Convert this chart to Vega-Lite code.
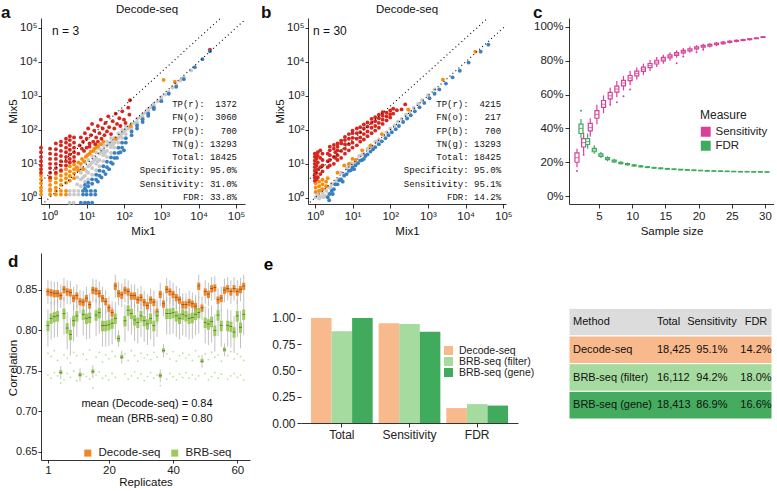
{
"$schema":"https://vega.github.io/schema/vega-lite/v6.json",
"background":"white",
"padding":{"left":1,"top":4,"right":0,"bottom":0},
"config":{
 "font":"Liberation Sans",
 "view":{"stroke":null},
 "axis":{"grid":false,"domainColor":"black","domainWidth":0.8,"tickColor":"black","tickWidth":0.8,"tickSize":4,"labelColor":"#222222","labelFontSize":11.5,"labelFont":"Liberation Sans","titleFont":"Liberation Sans","titleFontSize":11.5,"titleFontWeight":"normal","titleColor":"#111111","labelPadding":2,"titlePadding":4,"labelOverlap":false},
 "legend":{"labelFont":"Liberation Sans","titleFont":"Liberation Sans","labelFontSize":11.5,"titleFontSize":12,"titleFontWeight":"normal","labelColor":"#222222","titleColor":"#222222"},
 "title":{"font":"Liberation Sans","fontSize":11.5,"fontWeight":"normal","color":"#111111"},
 "text":{"font":"Liberation Sans","color":"#111111"}
},
"datasets":{
 "diag":[{"k":"1","x":0.3,"y":0.3},{"k":"1","x":300000,"y":300000},{"k":"5","x":0.3,"y":1.5},{"k":"5","x":60000,"y":300000}],
 "scatA":[
{"x":3.55,"y":1.6,"c":"g"},{"x":4.6,"y":1.6,"c":"g"},{"x":6,"y":1.6,"c":"g"},{"x":3.55,"y":1.25,"c":"g"},{"x":4.6,"y":1.25,"c":"g"},{"x":6,"y":1.25,"c":"g"},{"x":3.5,"y":0.72,"c":"g"},{"x":4.5,"y":0.72,"c":"g"},
{"x":5.6,"y":2.5,"c":"g"},{"x":5.6,"y":4,"c":"g"},{"x":5.6,"y":6.3,"c":"g"},
{"x":7,"y":2.2,"c":"g"},{"x":7,"y":3.5,"c":"g"},{"x":7,"y":5.5,"c":"g"},{"x":7,"y":8,"c":"g"},
{"x":9,"y":3,"c":"g"},{"x":9,"y":4.5,"c":"g"},{"x":9,"y":7,"c":"g"},{"x":9,"y":11,"c":"g"},
{"x":11,"y":3.5,"c":"g"},{"x":11,"y":5.5,"c":"g"},{"x":11,"y":8.5,"c":"g"},{"x":11,"y":13,"c":"g"},
{"x":14,"y":4.8,"c":"g"},{"x":14,"y":7.5,"c":"g"},{"x":14,"y":11,"c":"g"},{"x":14,"y":17,"c":"g"},
{"x":18,"y":6.5,"c":"g"},{"x":18,"y":10,"c":"g"},{"x":18,"y":15,"c":"g"},{"x":18,"y":22,"c":"g"},
{"x":22,"y":8.5,"c":"g"},{"x":22,"y":13,"c":"g"},{"x":22,"y":20,"c":"g"},{"x":22,"y":28,"c":"g"},
{"x":28,"y":12,"c":"g"},{"x":28,"y":18,"c":"g"},{"x":28,"y":26,"c":"g"},{"x":28,"y":36,"c":"g"},
{"x":35,"y":16,"c":"g"},{"x":35,"y":24,"c":"g"},{"x":35,"y":34,"c":"g"},{"x":35,"y":45,"c":"g"},
{"x":45,"y":21,"c":"g"},{"x":45,"y":31,"c":"g"},{"x":45,"y":44,"c":"g"},{"x":45,"y":58,"c":"g"},
{"x":56,"y":30,"c":"g"},{"x":56,"y":42,"c":"g"},{"x":56,"y":58,"c":"g"},
{"x":71,"y":42,"c":"g"},{"x":71,"y":58,"c":"g"},{"x":71,"y":78,"c":"g"},
{"x":89,"y":58,"c":"g"},{"x":89,"y":78,"c":"g"},{"x":89,"y":100,"c":"g"},
{"x":112,"y":75,"c":"g"},{"x":112,"y":100,"c":"g"},{"x":112,"y":130,"c":"g"},
{"x":160,"y":115,"c":"g"},{"x":160,"y":150,"c":"g"},{"x":224,"y":165,"c":"g"},{"x":224,"y":210,"c":"g"},
{"x":316,"y":240,"c":"g"},{"x":316,"y":290,"c":"g"},{"x":447,"y":350,"c":"g"},{"x":447,"y":410,"c":"g"},
{"x":630,"y":500,"c":"g"},{"x":630,"y":580,"c":"g"},{"x":1000,"y":820,"c":"g"},{"x":1000,"y":920,"c":"g"},
{"x":1580,"y":1300,"c":"g"},{"x":2500,"y":2150,"c":"g"},{"x":4000,"y":3500,"c":"g"},{"x":6300,"y":5600,"c":"g"},
{"x":8,"y":4,"c":"g"},{"x":10,"y":6,"c":"g"},{"x":12.5,"y":9.5,"c":"g"},{"x":16,"y":13,"c":"g"},{"x":20,"y":12,"c":"g"},{"x":25,"y":22,"c":"g"},{"x":31,"y":21,"c":"g"},{"x":40,"y":38,"c":"g"},{"x":50,"y":37,"c":"g"},{"x":63,"y":50,"c":"g"},{"x":80,"y":68,"c":"g"},{"x":100,"y":88,"c":"g"},{"x":135,"y":110,"c":"g"},{"x":190,"y":160,"c":"g"},{"x":270,"y":230,"c":"g"},{"x":380,"y":320,"c":"g"},{"x":530,"y":460,"c":"g"},{"x":800,"y":700,"c":"g"},{"x":1250,"y":1100,"c":"g"},{"x":2000,"y":1750,"c":"g"},{"x":3200,"y":2800,"c":"g"},
{"x":0.6,"y":2,"c":"o"},{"x":0.6,"y":2.7,"c":"o"},{"x":0.6,"y":3.5,"c":"o"},{"x":0.6,"y":4.5,"c":"o"},
{"x":1.05,"y":1.8,"c":"o"},{"x":1.05,"y":2.4,"c":"o"},{"x":1.05,"y":3.2,"c":"o"},{"x":1.05,"y":3.8,"c":"o"},
{"x":1.5,"y":2,"c":"o"},{"x":1.5,"y":2.8,"c":"o"},{"x":1.5,"y":3.8,"c":"o"},{"x":1.5,"y":5,"c":"o"},
{"x":2.05,"y":2.4,"c":"o"},{"x":2.05,"y":3.3,"c":"o"},{"x":2.05,"y":4.5,"c":"o"},{"x":2.05,"y":6,"c":"o"},
{"x":2.8,"y":2.8,"c":"o"},{"x":2.8,"y":3.8,"c":"o"},{"x":2.8,"y":5,"c":"o"},{"x":2.8,"y":7,"c":"o"},
{"x":3.55,"y":3.2,"c":"o"},{"x":3.55,"y":4.4,"c":"o"},{"x":3.55,"y":6,"c":"o"},{"x":3.55,"y":8.5,"c":"o"},
{"x":4.6,"y":3.8,"c":"o"},{"x":4.6,"y":5.2,"c":"o"},{"x":4.6,"y":7,"c":"o"},{"x":4.6,"y":9.5,"c":"o"},
{"x":0.6,"y":1.6,"c":"o"},{"x":1.05,"y":1.6,"c":"o"},{"x":1.5,"y":1.6,"c":"o"},{"x":2.05,"y":1.6,"c":"o"},{"x":2.8,"y":1.6,"c":"o"},{"x":0.6,"y":1.25,"c":"o"},{"x":1.05,"y":1.25,"c":"o"},{"x":1.5,"y":1.25,"c":"o"},{"x":2.05,"y":1.25,"c":"o"},{"x":2.8,"y":1.25,"c":"o"},
{"x":5.5,"y":8,"c":"o"},{"x":6,"y":11,"c":"o"},{"x":7,"y":10,"c":"o"},{"x":7.5,"y":14,"c":"o"},{"x":8.5,"y":12,"c":"o"},{"x":9.5,"y":16,"c":"o"},{"x":10.5,"y":18,"c":"o"},{"x":12,"y":20,"c":"o"},{"x":13,"y":23,"c":"o"},{"x":15,"y":24,"c":"o"},{"x":16,"y":28,"c":"o"},{"x":18,"y":30,"c":"o"},{"x":20,"y":33,"c":"o"},{"x":24,"y":38,"c":"o"},{"x":28,"y":45,"c":"o"},{"x":60,"y":55,"c":"o"},{"x":150,"y":130,"c":"o"},{"x":1150,"y":2950,"c":"o"},{"x":2300,"y":2600,"c":"o"},{"x":6,"y":6.5,"c":"o"},{"x":8,"y":7,"c":"o"},
{"x":0.6,"y":5.5,"c":"r"},{"x":0.6,"y":7,"c":"r"},{"x":0.6,"y":9,"c":"r"},{"x":0.6,"y":12,"c":"r"},{"x":0.6,"y":16,"c":"r"},{"x":0.6,"y":22,"c":"r"},{"x":0.6,"y":30,"c":"r"},
{"x":1.05,"y":4,"c":"r"},{"x":1.05,"y":5.5,"c":"r"},{"x":1.05,"y":7.5,"c":"r"},{"x":1.05,"y":10,"c":"r"},{"x":1.05,"y":14,"c":"r"},{"x":1.05,"y":20,"c":"r"},{"x":1.05,"y":28,"c":"r"},
{"x":1.5,"y":5.5,"c":"r"},{"x":1.5,"y":7.5,"c":"r"},{"x":1.5,"y":10,"c":"r"},{"x":1.5,"y":14,"c":"r"},{"x":1.5,"y":19,"c":"r"},{"x":1.5,"y":27,"c":"r"},{"x":1.5,"y":40,"c":"r"},
{"x":2.05,"y":6.5,"c":"r"},{"x":2.05,"y":9,"c":"r"},{"x":2.05,"y":12,"c":"r"},{"x":2.05,"y":17,"c":"r"},{"x":2.05,"y":24,"c":"r"},{"x":2.05,"y":35,"c":"r"},{"x":2.05,"y":45,"c":"r"},
{"x":2.8,"y":9,"c":"r"},{"x":2.8,"y":12,"c":"r"},{"x":2.8,"y":16,"c":"r"},{"x":2.8,"y":22,"c":"r"},{"x":2.8,"y":30,"c":"r"},{"x":2.8,"y":42,"c":"r"},{"x":2.8,"y":55,"c":"r"},
{"x":3.55,"y":11,"c":"r"},{"x":3.55,"y":14,"c":"r"},{"x":3.55,"y":19,"c":"r"},{"x":3.55,"y":26,"c":"r"},{"x":3.55,"y":36,"c":"r"},{"x":3.55,"y":50,"c":"r"},{"x":3.55,"y":65,"c":"r"},
{"x":4.6,"y":12,"c":"r"},{"x":4.6,"y":16,"c":"r"},{"x":4.6,"y":22,"c":"r"},{"x":4.6,"y":30,"c":"r"},{"x":4.6,"y":42,"c":"r"},{"x":4.6,"y":60,"c":"r"},
{"x":6,"y":20,"c":"r"},{"x":6.5,"y":35,"c":"r"},{"x":7,"y":60,"c":"r"},{"x":7.5,"y":28,"c":"r"},{"x":8,"y":45,"c":"r"},{"x":8.5,"y":24,"c":"r"},{"x":9,"y":80,"c":"r"},{"x":10,"y":30,"c":"r"},{"x":10,"y":55,"c":"r"},{"x":11,"y":110,"c":"r"},{"x":12,"y":40,"c":"r"},{"x":12,"y":32,"c":"r"},{"x":13,"y":70,"c":"r"},{"x":14,"y":150,"c":"r"},{"x":15,"y":45,"c":"r"},{"x":16,"y":95,"c":"r"},{"x":17,"y":38,"c":"r"},{"x":18,"y":60,"c":"r"},{"x":20,"y":130,"c":"r"},{"x":20,"y":45,"c":"r"},{"x":22,"y":80,"c":"r"},{"x":24,"y":200,"c":"r"},{"x":25,"y":55,"c":"r"},{"x":27,"y":110,"c":"r"},{"x":30,"y":70,"c":"r"},{"x":32,"y":160,"c":"r"},{"x":35,"y":90,"c":"r"},{"x":38,"y":250,"c":"r"},{"x":40,"y":120,"c":"r"},{"x":45,"y":75,"c":"r"},{"x":50,"y":180,"c":"r"},{"x":55,"y":110,"c":"r"},{"x":60,"y":300,"c":"r"},{"x":65,"y":150,"c":"r"},{"x":75,"y":220,"c":"r"},{"x":80,"y":130,"c":"r"},{"x":90,"y":350,"c":"r"},{"x":100,"y":200,"c":"r"},{"x":110,"y":160,"c":"r"},{"x":130,"y":450,"c":"r"},{"x":140,"y":280,"c":"r"},{"x":145,"y":740,"c":"r"},{"x":20000,"y":23000,"c":"r"},
{"x":8,"y":1.6,"c":"b"},{"x":10,"y":1.6,"c":"b"},{"x":13,"y":1.6,"c":"b"},{"x":17,"y":1.6,"c":"b"},{"x":8,"y":1.25,"c":"b"},{"x":10,"y":1.25,"c":"b"},{"x":13,"y":1.25,"c":"b"},{"x":17,"y":1.25,"c":"b"},{"x":7,"y":0.72,"c":"b"},{"x":9,"y":0.72,"c":"b"},{"x":11,"y":0.72,"c":"b"},{"x":14,"y":0.72,"c":"b"},
{"x":9,"y":1.9,"c":"b"},{"x":9,"y":2.4,"c":"b"},{"x":11,"y":2.2,"c":"b"},{"x":11,"y":2.8,"c":"b"},{"x":14,"y":2.6,"c":"b"},{"x":14,"y":3.5,"c":"b"},{"x":18,"y":3.4,"c":"b"},{"x":18,"y":4.8,"c":"b"},{"x":22,"y":4.5,"c":"b"},{"x":22,"y":6.3,"c":"b"},{"x":28,"y":6,"c":"b"},{"x":28,"y":8.5,"c":"b"},{"x":35,"y":8,"c":"b"},{"x":35,"y":11.5,"c":"b"},{"x":45,"y":11,"c":"b"},{"x":45,"y":15.5,"c":"b"},{"x":56,"y":15,"c":"b"},{"x":56,"y":21,"c":"b"},{"x":71,"y":21,"c":"b"},{"x":71,"y":30,"c":"b"},{"x":89,"y":30,"c":"b"},{"x":89,"y":42,"c":"b"},{"x":112,"y":42,"c":"b"},{"x":112,"y":57,"c":"b"},{"x":160,"y":70,"c":"b"},{"x":160,"y":90,"c":"b"},{"x":224,"y":110,"c":"b"},{"x":224,"y":135,"c":"b"},{"x":316,"y":170,"c":"b"},{"x":316,"y":205,"c":"b"},{"x":447,"y":260,"c":"b"},{"x":447,"y":300,"c":"b"},{"x":630,"y":410,"c":"b"},{"x":630,"y":450,"c":"b"},{"x":1000,"y":700,"c":"b"},{"x":1580,"y":1150,"c":"b"},{"x":2500,"y":1850,"c":"b"},{"x":4000,"y":3100,"c":"b"},{"x":7900,"y":7000,"c":"b"},{"x":12600,"y":12000,"c":"b"},{"x":20000,"y":20500,"c":"b"},
{"x":32,"y":5,"c":"b"},{"x":40,"y":7,"c":"b"},{"x":25,"y":4,"c":"b"},{"x":50,"y":10,"c":"b"},{"x":65,"y":15,"c":"b"},{"x":20,"y":3,"c":"b"},{"x":80,"y":22,"c":"b"},{"x":100,"y":25,"c":"b"}
 ],
 "scatB":[
{"x":1.05,"y":1.05,"c":"g"},{"x":1.2,"y":1.2,"c":"g"},{"x":1.4,"y":1.1,"c":"g"},{"x":1.6,"y":1.4,"c":"g"},{"x":1.8,"y":1.15,"c":"g"},{"x":2,"y":1.6,"c":"g"},{"x":2.3,"y":1.3,"c":"g"},{"x":2.6,"y":2,"c":"g"},{"x":3,"y":1.7,"c":"g"},{"x":3.3,"y":2.6,"c":"g"},{"x":3.8,"y":3.2,"c":"g"},{"x":4.5,"y":3.6,"c":"g"},{"x":1.1,"y":1.4,"c":"g"},{"x":1.5,"y":1.8,"c":"g"},{"x":2.2,"y":2.1,"c":"g"},{"x":2.8,"y":2.5,"c":"g"},{"x":1.3,"y":0.95,"c":"g"},{"x":1.7,"y":1.05,"c":"g"},{"x":1.25,"y":1.6,"c":"g"},
{"x":5,"y":5.5,"c":"g"},{"x":6,"y":5,"c":"g"},{"x":7,"y":7.5,"c":"g"},{"x":8,"y":9,"c":"g"},{"x":9,"y":10.5,"c":"g"},{"x":10,"y":10,"c":"g"},{"x":12,"y":11,"c":"g"},{"x":15,"y":17,"c":"g"},{"x":18,"y":19,"c":"g"},{"x":20,"y":20,"c":"g"},{"x":25,"y":28,"c":"g"},{"x":28,"y":30,"c":"g"},{"x":32,"y":33,"c":"g"},{"x":40,"y":45,"c":"g"},{"x":45,"y":46,"c":"g"},{"x":50,"y":52,"c":"g"},{"x":65,"y":70,"c":"g"},{"x":80,"y":85,"c":"g"},{"x":100,"y":110,"c":"g"},{"x":130,"y":135,"c":"g"},{"x":160,"y":175,"c":"g"},{"x":200,"y":210,"c":"g"},{"x":260,"y":280,"c":"g"},{"x":330,"y":350,"c":"g"},{"x":420,"y":440,"c":"g"},{"x":550,"y":580,"c":"g"},{"x":700,"y":740,"c":"g"},{"x":1000,"y":1050,"c":"g"},{"x":1500,"y":1550,"c":"g"},
{"x":1.05,"y":1.5,"c":"o"},{"x":1.05,"y":2,"c":"o"},{"x":1.05,"y":2.7,"c":"o"},{"x":1.05,"y":3.5,"c":"o"},{"x":1.3,"y":1.6,"c":"o"},{"x":1.3,"y":2.2,"c":"o"},{"x":1.3,"y":3,"c":"o"},{"x":1.6,"y":1.8,"c":"o"},{"x":1.6,"y":2.5,"c":"o"},{"x":1.6,"y":3.4,"c":"o"},{"x":2,"y":2.2,"c":"o"},{"x":2,"y":3,"c":"o"},{"x":2.2,"y":3.8,"c":"o"},{"x":1.15,"y":4.2,"c":"o"},{"x":4,"y":5.5,"c":"o"},{"x":6,"y":9,"c":"o"},{"x":10,"y":14,"c":"o"},{"x":18,"y":25,"c":"o"},{"x":30,"y":35,"c":"o"},{"x":300,"y":400,"c":"o"},{"x":2500,"y":3000,"c":"o"},{"x":18000,"y":20000,"c":"o"},{"x":12,"y":13,"c":"o"},{"x":60,"y":75,"c":"o"},{"x":8,"y":10,"c":"o"},
{"x":1,"y":3.2,"c":"r"},{"x":1,"y":4,"c":"r"},{"x":1,"y":5,"c":"r"},{"x":1,"y":6.3,"c":"r"},{"x":1,"y":8,"c":"r"},{"x":1,"y":10,"c":"r"},{"x":1,"y":12.5,"c":"r"},{"x":1,"y":16,"c":"r"},{"x":1,"y":20,"c":"r"},
{"x":1.1,"y":3.5,"c":"r"},{"x":1.1,"y":5.5,"c":"r"},{"x":1.1,"y":9,"c":"r"},{"x":1.1,"y":14,"c":"r"},{"x":1.1,"y":18,"c":"r"},
{"x":1.2,"y":4,"c":"r"},{"x":1.2,"y":7,"c":"r"},{"x":1.2,"y":11,"c":"r"},{"x":1.2,"y":17,"c":"r"},{"x":1.2,"y":22,"c":"r"},
{"x":1.4,"y":5,"c":"r"},{"x":1.4,"y":8,"c":"r"},{"x":1.4,"y":15,"c":"r"},{"x":1.4,"y":25,"c":"r"},
{"x":1.6,"y":6,"c":"r"},{"x":1.6,"y":9,"c":"r"},{"x":1.6,"y":13,"c":"r"},{"x":1.6,"y":20,"c":"r"},
{"x":2.2,"y":8,"c":"r"},{"x":2.2,"y":12,"c":"r"},{"x":2.2,"y":20,"c":"r"},
{"x":2.5,"y":9,"c":"r"},{"x":2.5,"y":13,"c":"r"},{"x":2.5,"y":18,"c":"r"},{"x":2.5,"y":25,"c":"r"},{"x":2.5,"y":32,"c":"r"},
{"x":3.2,"y":10,"c":"r"},{"x":3.2,"y":16,"c":"r"},{"x":3.2,"y":28,"c":"r"},{"x":3.2,"y":36,"c":"r"},
{"x":3.5,"y":15,"c":"r"},{"x":3.5,"y":22,"c":"r"},
{"x":4,"y":13,"c":"r"},{"x":4,"y":18,"c":"r"},{"x":4,"y":25,"c":"r"},{"x":4,"y":32,"c":"r"},{"x":4,"y":40,"c":"r"},
{"x":5,"y":15,"c":"r"},{"x":5,"y":24,"c":"r"},{"x":5,"y":40,"c":"r"},{"x":5,"y":48,"c":"r"},
{"x":6.3,"y":20,"c":"r"},{"x":6.3,"y":28,"c":"r"},{"x":6.3,"y":38,"c":"r"},{"x":6.3,"y":50,"c":"r"},{"x":6.3,"y":62,"c":"r"},
{"x":8,"y":25,"c":"r"},{"x":8,"y":38,"c":"r"},{"x":8,"y":55,"c":"r"},{"x":8,"y":75,"c":"r"},
{"x":10,"y":30,"c":"r"},{"x":10,"y":42,"c":"r"},{"x":10,"y":58,"c":"r"},{"x":10,"y":80,"c":"r"},{"x":10,"y":95,"c":"r"},
{"x":13,"y":35,"c":"r"},{"x":13,"y":55,"c":"r"},{"x":13,"y":80,"c":"r"},{"x":13,"y":110,"c":"r"},
{"x":16,"y":45,"c":"r"},{"x":16,"y":60,"c":"r"},{"x":16,"y":85,"c":"r"},{"x":16,"y":120,"c":"r"},
{"x":20,"y":52,"c":"r"},{"x":20,"y":75,"c":"r"},{"x":20,"y":110,"c":"r"},{"x":20,"y":145,"c":"r"},
{"x":25,"y":65,"c":"r"},{"x":25,"y":90,"c":"r"},{"x":25,"y":125,"c":"r"},{"x":25,"y":165,"c":"r"},
{"x":32,"y":80,"c":"r"},{"x":32,"y":115,"c":"r"},{"x":32,"y":160,"c":"r"},{"x":32,"y":210,"c":"r"},
{"x":40,"y":95,"c":"r"},{"x":40,"y":130,"c":"r"},{"x":40,"y":180,"c":"r"},{"x":40,"y":235,"c":"r"},
{"x":50,"y":115,"c":"r"},{"x":50,"y":160,"c":"r"},{"x":50,"y":220,"c":"r"},{"x":50,"y":280,"c":"r"},
{"x":63,"y":150,"c":"r"},{"x":63,"y":200,"c":"r"},{"x":63,"y":260,"c":"r"},{"x":63,"y":330,"c":"r"},
{"x":80,"y":190,"c":"r"},{"x":80,"y":250,"c":"r"},{"x":80,"y":320,"c":"r"},
{"x":100,"y":230,"c":"r"},{"x":100,"y":290,"c":"r"},{"x":100,"y":370,"c":"r"},
{"x":120,"y":300,"c":"r"},{"x":120,"y":420,"c":"r"},{"x":150,"y":380,"c":"r"},{"x":200,"y":400,"c":"r"},{"x":250,"y":560,"c":"r"},
{"x":2.2,"y":1.05,"c":"b"},{"x":2.5,"y":1.3,"c":"b"},{"x":2.8,"y":1.6,"c":"b"},{"x":3.2,"y":1.8,"c":"b"},{"x":3.5,"y":2.5,"c":"b"},{"x":4,"y":2.5,"c":"b"},{"x":4.5,"y":3.3,"c":"b"},{"x":5,"y":3.5,"c":"b"},{"x":6,"y":4.5,"c":"b"},{"x":7,"y":5,"c":"b"},{"x":8,"y":6.2,"c":"b"},{"x":9,"y":6.5,"c":"b"},{"x":10,"y":7.8,"c":"b"},{"x":12,"y":9,"c":"b"},{"x":14,"y":10.5,"c":"b"},{"x":16,"y":12.5,"c":"b"},{"x":18,"y":13,"c":"b"},{"x":22,"y":17,"c":"b"},{"x":25,"y":19,"c":"b"},{"x":30,"y":23,"c":"b"},{"x":35,"y":27,"c":"b"},{"x":40,"y":31,"c":"b"},{"x":50,"y":38,"c":"b"},{"x":60,"y":46,"c":"b"},{"x":75,"y":57,"c":"b"},{"x":90,"y":70,"c":"b"},{"x":110,"y":85,"c":"b"},{"x":140,"y":105,"c":"b"},{"x":170,"y":130,"c":"b"},{"x":220,"y":170,"c":"b"},{"x":280,"y":215,"c":"b"},{"x":350,"y":270,"c":"b"},{"x":450,"y":350,"c":"b"},{"x":600,"y":460,"c":"b"},{"x":800,"y":620,"c":"b"},{"x":1100,"y":850,"c":"b"},{"x":1500,"y":1150,"c":"b"},{"x":2000,"y":1550,"c":"b"},{"x":3000,"y":2300,"c":"b"},{"x":4500,"y":3500,"c":"b"},{"x":7000,"y":5500,"c":"b"},{"x":12000,"y":9500,"c":"b"},{"x":25000,"y":20000,"c":"b"},{"x":40000,"y":32000,"c":"b"},{"x":2.4,"y":0.85,"c":"b"},{"x":3,"y":1.3,"c":"b"},{"x":5.5,"y":3,"c":"b"},{"x":11,"y":7,"c":"b"},{"x":20,"y":14,"c":"b"}
 ],
 "cbox":[
{"n":2,"m":"Sensitivity","lo":0.17,"q1":0.2,"md":0.227,"q3":0.255,"hi":0.28},
{"n":3,"m":"Sensitivity","lo":0.25,"q1":0.29,"md":0.316,"q3":0.34,"hi":0.375},
{"n":4,"m":"Sensitivity","lo":0.35,"q1":0.385,"md":0.405,"q3":0.43,"hi":0.46},
{"n":5,"m":"Sensitivity","lo":0.425,"q1":0.46,"md":0.483,"q3":0.505,"hi":0.54},
{"n":6,"m":"Sensitivity","lo":0.49,"q1":0.525,"md":0.543,"q3":0.565,"hi":0.595},
{"n":7,"m":"Sensitivity","lo":0.545,"q1":0.575,"md":0.593,"q3":0.613,"hi":0.64},
{"n":8,"m":"Sensitivity","lo":0.585,"q1":0.615,"md":0.633,"q3":0.65,"hi":0.68},
{"n":9,"m":"Sensitivity","lo":0.625,"q1":0.652,"md":0.668,"q3":0.684,"hi":0.71},
{"n":10,"m":"Sensitivity","lo":0.655,"q1":0.683,"md":0.698,"q3":0.713,"hi":0.74},
{"n":11,"m":"Sensitivity","lo":0.69,"q1":0.711,"md":0.725,"q3":0.739,"hi":0.76},
{"n":12,"m":"Sensitivity","lo":0.715,"q1":0.737,"md":0.75,"q3":0.763,"hi":0.783},
{"n":13,"m":"Sensitivity","lo":0.74,"q1":0.76,"md":0.772,"q3":0.784,"hi":0.805},
{"n":14,"m":"Sensitivity","lo":0.763,"q1":0.781,"md":0.792,"q3":0.803,"hi":0.822},
{"n":15,"m":"Sensitivity","lo":0.783,"q1":0.8,"md":0.81,"q3":0.82,"hi":0.836},
{"n":16,"m":"Sensitivity","lo":0.8,"q1":0.817,"md":0.826,"q3":0.835,"hi":0.85},
{"n":17,"m":"Sensitivity","lo":0.818,"q1":0.832,"md":0.84,"q3":0.848,"hi":0.862},
{"n":18,"m":"Sensitivity","lo":0.835,"q1":0.847,"md":0.854,"q3":0.861,"hi":0.875},
{"n":19,"m":"Sensitivity","lo":0.847,"q1":0.858,"md":0.865,"q3":0.871,"hi":0.884},
{"n":20,"m":"Sensitivity","lo":0.86,"q1":0.87,"md":0.876,"q3":0.882,"hi":0.892},
{"n":21,"m":"Sensitivity","lo":0.87,"q1":0.88,"md":0.885,"q3":0.891,"hi":0.9},
{"n":22,"m":"Sensitivity","lo":0.878,"q1":0.887,"md":0.892,"q3":0.897,"hi":0.905},
{"n":23,"m":"Sensitivity","lo":0.887,"q1":0.895,"md":0.899,"q3":0.904,"hi":0.911},
{"n":24,"m":"Sensitivity","lo":0.895,"q1":0.902,"md":0.906,"q3":0.91,"hi":0.917},
{"n":25,"m":"Sensitivity","lo":0.902,"q1":0.909,"md":0.912,"q3":0.916,"hi":0.921},
{"n":26,"m":"Sensitivity","lo":0.909,"q1":0.915,"md":0.918,"q3":0.921,"hi":0.926},
{"n":27,"m":"Sensitivity","lo":0.915,"q1":0.92,"md":0.923,"q3":0.925,"hi":0.93},
{"n":28,"m":"Sensitivity","lo":0.92,"q1":0.925,"md":0.928,"q3":0.93,"hi":0.934},
{"n":29,"m":"Sensitivity","lo":0.927,"q1":0.931,"md":0.933,"q3":0.935,"hi":0.938},
{"n":30,"m":"Sensitivity","lo":0.935,"q1":0.938,"md":0.94,"q3":0.942,"hi":0.945},
{"n":2,"m":"FDR","lo":0.34,"q1":0.37,"md":0.4,"q3":0.425,"hi":0.455},
{"n":3,"m":"FDR","lo":0.28,"q1":0.305,"md":0.322,"q3":0.34,"hi":0.37},
{"n":4,"m":"FDR","lo":0.25,"q1":0.262,"md":0.272,"q3":0.282,"hi":0.3},
{"n":5,"m":"FDR","lo":0.225,"q1":0.235,"md":0.242,"q3":0.249,"hi":0.26},
{"n":6,"m":"FDR","lo":0.206,"q1":0.215,"md":0.221,"q3":0.227,"hi":0.236},
{"n":7,"m":"FDR","lo":0.195,"q1":0.202,"md":0.207,"q3":0.212,"hi":0.22},
{"n":8,"m":"FDR","lo":0.186,"q1":0.192,"md":0.196,"q3":0.2,"hi":0.207},
{"n":9,"m":"FDR","lo":0.18,"q1":0.185,"md":0.188,"q3":0.192,"hi":0.198},
{"n":10,"m":"FDR","lo":0.173,"q1":0.178,"md":0.181,"q3":0.184,"hi":0.19},
{"n":11,"m":"FDR","lo":0.169,"q1":0.173,"md":0.176,"q3":0.178,"hi":0.183},
{"n":12,"m":"FDR","lo":0.165,"q1":0.169,"md":0.171,"q3":0.173,"hi":0.177},
{"n":13,"m":"FDR","lo":0.162,"q1":0.165,"md":0.167,"q3":0.169,"hi":0.173},
{"n":14,"m":"FDR","lo":0.159,"q1":0.162,"md":0.164,"q3":0.166,"hi":0.169},
{"n":15,"m":"FDR","lo":0.156,"q1":0.159,"md":0.161,"q3":0.163,"hi":0.166},
{"n":16,"m":"FDR","lo":0.154,"q1":0.157,"md":0.158,"q3":0.16,"hi":0.163},
{"n":17,"m":"FDR","lo":0.152,"q1":0.155,"md":0.156,"q3":0.158,"hi":0.16},
{"n":18,"m":"FDR","lo":0.151,"q1":0.153,"md":0.154,"q3":0.156,"hi":0.158},
{"n":19,"m":"FDR","lo":0.149,"q1":0.151,"md":0.152,"q3":0.154,"hi":0.156},
{"n":20,"m":"FDR","lo":0.148,"q1":0.15,"md":0.151,"q3":0.152,"hi":0.154},
{"n":21,"m":"FDR","lo":0.147,"q1":0.148,"md":0.149,"q3":0.151,"hi":0.153},
{"n":22,"m":"FDR","lo":0.146,"q1":0.147,"md":0.148,"q3":0.149,"hi":0.151},
{"n":23,"m":"FDR","lo":0.145,"q1":0.146,"md":0.147,"q3":0.148,"hi":0.15},
{"n":24,"m":"FDR","lo":0.144,"q1":0.145,"md":0.146,"q3":0.147,"hi":0.149},
{"n":25,"m":"FDR","lo":0.143,"q1":0.144,"md":0.145,"q3":0.146,"hi":0.148},
{"n":26,"m":"FDR","lo":0.142,"q1":0.143,"md":0.144,"q3":0.145,"hi":0.147},
{"n":27,"m":"FDR","lo":0.142,"q1":0.143,"md":0.144,"q3":0.145,"hi":0.146},
{"n":28,"m":"FDR","lo":0.141,"q1":0.142,"md":0.143,"q3":0.144,"hi":0.145},
{"n":29,"m":"FDR","lo":0.141,"q1":0.142,"md":0.143,"q3":0.144,"hi":0.145},
{"n":30,"m":"FDR","lo":0.14,"q1":0.141,"md":0.142,"q3":0.143,"hi":0.144}
 ],
 "cout":[
{"n":2,"m":"Sensitivity","v":0.148},{"n":2,"m":"FDR","v":0.505},{"n":3,"m":"Sensitivity","v":0.245},{"n":7,"m":"Sensitivity","v":0.54},{"n":8,"m":"Sensitivity","v":0.555},{"n":9,"m":"Sensitivity","v":0.59},{"n":10,"m":"Sensitivity","v":0.63},{"n":17,"m":"Sensitivity","v":0.785},{"n":18,"m":"Sensitivity","v":0.825},{"n":20,"m":"Sensitivity","v":0.85},{"n":21,"m":"Sensitivity","v":0.865}
 ],
 "dbox":[
{"r":1,"s":"Decode-seq","lo":0.833,"q1":0.843,"md":0.848,"q3":0.852,"hi":0.862},
{"r":2,"s":"Decode-seq","lo":0.832,"q1":0.842,"md":0.847,"q3":0.851,"hi":0.861},
{"r":3,"s":"Decode-seq","lo":0.831,"q1":0.841,"md":0.846,"q3":0.85,"hi":0.86},
{"r":4,"s":"Decode-seq","lo":0.831,"q1":0.841,"md":0.846,"q3":0.85,"hi":0.86},
{"r":5,"s":"Decode-seq","lo":0.828,"q1":0.838,"md":0.843,"q3":0.847,"hi":0.857},
{"r":6,"s":"Decode-seq","lo":0.836,"q1":0.846,"md":0.851,"q3":0.855,"hi":0.865},
{"r":7,"s":"Decode-seq","lo":0.833,"q1":0.843,"md":0.848,"q3":0.852,"hi":0.862},
{"r":8,"s":"Decode-seq","lo":0.832,"q1":0.842,"md":0.847,"q3":0.851,"hi":0.861},
{"r":9,"s":"Decode-seq","lo":0.825,"q1":0.835,"md":0.84,"q3":0.844,"hi":0.854},
{"r":10,"s":"Decode-seq","lo":0.828,"q1":0.838,"md":0.843,"q3":0.847,"hi":0.857},
{"r":11,"s":"Decode-seq","lo":0.821,"q1":0.831,"md":0.836,"q3":0.84,"hi":0.85},
{"r":12,"s":"Decode-seq","lo":0.82,"q1":0.83,"md":0.835,"q3":0.839,"hi":0.849},
{"r":13,"s":"Decode-seq","lo":0.825,"q1":0.835,"md":0.84,"q3":0.844,"hi":0.854},
{"r":14,"s":"Decode-seq","lo":0.817,"q1":0.827,"md":0.832,"q3":0.836,"hi":0.846},
{"r":15,"s":"Decode-seq","lo":0.835,"q1":0.845,"md":0.85,"q3":0.854,"hi":0.864},
{"r":16,"s":"Decode-seq","lo":0.834,"q1":0.844,"md":0.849,"q3":0.853,"hi":0.863},
{"r":17,"s":"Decode-seq","lo":0.831,"q1":0.841,"md":0.846,"q3":0.85,"hi":0.86},
{"r":18,"s":"Decode-seq","lo":0.825,"q1":0.835,"md":0.84,"q3":0.844,"hi":0.854},
{"r":19,"s":"Decode-seq","lo":0.821,"q1":0.831,"md":0.836,"q3":0.84,"hi":0.85},
{"r":20,"s":"Decode-seq","lo":0.813,"q1":0.823,"md":0.828,"q3":0.832,"hi":0.842},
{"r":21,"s":"Decode-seq","lo":0.807,"q1":0.817,"md":0.822,"q3":0.826,"hi":0.836},
{"r":22,"s":"Decode-seq","lo":0.84,"q1":0.85,"md":0.855,"q3":0.859,"hi":0.869},
{"r":23,"s":"Decode-seq","lo":0.831,"q1":0.841,"md":0.846,"q3":0.85,"hi":0.86},
{"r":24,"s":"Decode-seq","lo":0.829,"q1":0.839,"md":0.844,"q3":0.848,"hi":0.858},
{"r":25,"s":"Decode-seq","lo":0.835,"q1":0.845,"md":0.85,"q3":0.854,"hi":0.864},
{"r":26,"s":"Decode-seq","lo":0.833,"q1":0.843,"md":0.848,"q3":0.852,"hi":0.862},
{"r":27,"s":"Decode-seq","lo":0.828,"q1":0.838,"md":0.843,"q3":0.847,"hi":0.857},
{"r":28,"s":"Decode-seq","lo":0.828,"q1":0.838,"md":0.843,"q3":0.847,"hi":0.857},
{"r":29,"s":"Decode-seq","lo":0.823,"q1":0.833,"md":0.838,"q3":0.842,"hi":0.852},
{"r":30,"s":"Decode-seq","lo":0.826,"q1":0.836,"md":0.841,"q3":0.845,"hi":0.855},
{"r":31,"s":"Decode-seq","lo":0.82,"q1":0.83,"md":0.835,"q3":0.839,"hi":0.849},
{"r":32,"s":"Decode-seq","lo":0.816,"q1":0.826,"md":0.831,"q3":0.835,"hi":0.845},
{"r":33,"s":"Decode-seq","lo":0.823,"q1":0.833,"md":0.838,"q3":0.842,"hi":0.852},
{"r":34,"s":"Decode-seq","lo":0.82,"q1":0.83,"md":0.835,"q3":0.839,"hi":0.849},
{"r":35,"s":"Decode-seq","lo":0.808,"q1":0.818,"md":0.823,"q3":0.827,"hi":0.837},
{"r":36,"s":"Decode-seq","lo":0.83,"q1":0.84,"md":0.845,"q3":0.849,"hi":0.859},
{"r":37,"s":"Decode-seq","lo":0.818,"q1":0.828,"md":0.833,"q3":0.837,"hi":0.847},
{"r":38,"s":"Decode-seq","lo":0.836,"q1":0.846,"md":0.851,"q3":0.855,"hi":0.865},
{"r":39,"s":"Decode-seq","lo":0.833,"q1":0.843,"md":0.848,"q3":0.852,"hi":0.862},
{"r":40,"s":"Decode-seq","lo":0.83,"q1":0.84,"md":0.845,"q3":0.849,"hi":0.859},
{"r":41,"s":"Decode-seq","lo":0.826,"q1":0.836,"md":0.841,"q3":0.845,"hi":0.855},
{"r":42,"s":"Decode-seq","lo":0.823,"q1":0.833,"md":0.838,"q3":0.842,"hi":0.852},
{"r":43,"s":"Decode-seq","lo":0.817,"q1":0.827,"md":0.832,"q3":0.836,"hi":0.846},
{"r":44,"s":"Decode-seq","lo":0.817,"q1":0.827,"md":0.832,"q3":0.836,"hi":0.846},
{"r":45,"s":"Decode-seq","lo":0.82,"q1":0.83,"md":0.835,"q3":0.839,"hi":0.849},
{"r":46,"s":"Decode-seq","lo":0.818,"q1":0.828,"md":0.833,"q3":0.837,"hi":0.847},
{"r":47,"s":"Decode-seq","lo":0.815,"q1":0.825,"md":0.83,"q3":0.834,"hi":0.844},
{"r":48,"s":"Decode-seq","lo":0.84,"q1":0.85,"md":0.855,"q3":0.859,"hi":0.869},
{"r":49,"s":"Decode-seq","lo":0.813,"q1":0.823,"md":0.828,"q3":0.832,"hi":0.842},
{"r":50,"s":"Decode-seq","lo":0.833,"q1":0.843,"md":0.848,"q3":0.852,"hi":0.862},
{"r":51,"s":"Decode-seq","lo":0.83,"q1":0.84,"md":0.845,"q3":0.849,"hi":0.859},
{"r":52,"s":"Decode-seq","lo":0.837,"q1":0.847,"md":0.852,"q3":0.856,"hi":0.866},
{"r":53,"s":"Decode-seq","lo":0.838,"q1":0.848,"md":0.853,"q3":0.857,"hi":0.867},
{"r":54,"s":"Decode-seq","lo":0.823,"q1":0.833,"md":0.838,"q3":0.842,"hi":0.852},
{"r":55,"s":"Decode-seq","lo":0.825,"q1":0.835,"md":0.84,"q3":0.844,"hi":0.854},
{"r":56,"s":"Decode-seq","lo":0.835,"q1":0.845,"md":0.85,"q3":0.854,"hi":0.864},
{"r":57,"s":"Decode-seq","lo":0.837,"q1":0.847,"md":0.852,"q3":0.856,"hi":0.866},
{"r":58,"s":"Decode-seq","lo":0.833,"q1":0.843,"md":0.848,"q3":0.852,"hi":0.862},
{"r":59,"s":"Decode-seq","lo":0.837,"q1":0.847,"md":0.852,"q3":0.856,"hi":0.866},
{"r":60,"s":"Decode-seq","lo":0.833,"q1":0.843,"md":0.848,"q3":0.852,"hi":0.862},
{"r":61,"s":"Decode-seq","lo":0.836,"q1":0.846,"md":0.851,"q3":0.855,"hi":0.865},
{"r":62,"s":"Decode-seq","lo":0.84,"q1":0.85,"md":0.855,"q3":0.859,"hi":0.869},
{"r":1,"s":"BRB-seq","lo":0.78,"q1":0.799,"md":0.806,"q3":0.812,"hi":0.826},
{"r":2,"s":"BRB-seq","lo":0.789,"q1":0.808,"md":0.815,"q3":0.821,"hi":0.835},
{"r":3,"s":"BRB-seq","lo":0.791,"q1":0.81,"md":0.817,"q3":0.823,"hi":0.837},
{"r":4,"s":"BRB-seq","lo":0.792,"q1":0.811,"md":0.818,"q3":0.824,"hi":0.838},
{"r":5,"s":"BRB-seq","lo":0.74,"q1":0.746,"md":0.748,"q3":0.751,"hi":0.756},
{"r":6,"s":"BRB-seq","lo":0.795,"q1":0.814,"md":0.821,"q3":0.827,"hi":0.841},
{"r":7,"s":"BRB-seq","lo":0.777,"q1":0.796,"md":0.803,"q3":0.809,"hi":0.823},
{"r":8,"s":"BRB-seq","lo":0.769,"q1":0.788,"md":0.795,"q3":0.801,"hi":0.815},
{"r":9,"s":"BRB-seq","lo":0.786,"q1":0.805,"md":0.812,"q3":0.818,"hi":0.832},
{"r":10,"s":"BRB-seq","lo":0.792,"q1":0.811,"md":0.818,"q3":0.824,"hi":0.838},
{"r":11,"s":"BRB-seq","lo":0.737,"q1":0.743,"md":0.745,"q3":0.748,"hi":0.753},
{"r":12,"s":"BRB-seq","lo":0.794,"q1":0.813,"md":0.82,"q3":0.826,"hi":0.84},
{"r":13,"s":"BRB-seq","lo":0.789,"q1":0.808,"md":0.815,"q3":0.821,"hi":0.835},
{"r":14,"s":"BRB-seq","lo":0.79,"q1":0.809,"md":0.816,"q3":0.822,"hi":0.836},
{"r":15,"s":"BRB-seq","lo":0.741,"q1":0.747,"md":0.749,"q3":0.752,"hi":0.757},
{"r":16,"s":"BRB-seq","lo":0.793,"q1":0.812,"md":0.819,"q3":0.825,"hi":0.839},
{"r":17,"s":"BRB-seq","lo":0.796,"q1":0.815,"md":0.822,"q3":0.828,"hi":0.842},
{"r":18,"s":"BRB-seq","lo":0.78,"q1":0.799,"md":0.806,"q3":0.812,"hi":0.826},
{"r":19,"s":"BRB-seq","lo":0.78,"q1":0.799,"md":0.806,"q3":0.812,"hi":0.826},
{"r":20,"s":"BRB-seq","lo":0.781,"q1":0.8,"md":0.807,"q3":0.813,"hi":0.827},
{"r":21,"s":"BRB-seq","lo":0.783,"q1":0.802,"md":0.809,"q3":0.815,"hi":0.829},
{"r":22,"s":"BRB-seq","lo":0.789,"q1":0.808,"md":0.815,"q3":0.821,"hi":0.835},
{"r":23,"s":"BRB-seq","lo":0.78,"q1":0.786,"md":0.79,"q3":0.794,"hi":0.8},
{"r":24,"s":"BRB-seq","lo":0.759,"q1":0.765,"md":0.767,"q3":0.77,"hi":0.775},
{"r":25,"s":"BRB-seq","lo":0.786,"q1":0.805,"md":0.812,"q3":0.818,"hi":0.832},
{"r":26,"s":"BRB-seq","lo":0.799,"q1":0.818,"md":0.825,"q3":0.831,"hi":0.845},
{"r":27,"s":"BRB-seq","lo":0.795,"q1":0.814,"md":0.821,"q3":0.827,"hi":0.841},
{"r":28,"s":"BRB-seq","lo":0.787,"q1":0.806,"md":0.813,"q3":0.819,"hi":0.833},
{"r":29,"s":"BRB-seq","lo":0.784,"q1":0.803,"md":0.81,"q3":0.816,"hi":0.83},
{"r":30,"s":"BRB-seq","lo":0.792,"q1":0.811,"md":0.818,"q3":0.824,"hi":0.838},
{"r":31,"s":"BRB-seq","lo":0.786,"q1":0.805,"md":0.812,"q3":0.818,"hi":0.832},
{"r":32,"s":"BRB-seq","lo":0.782,"q1":0.801,"md":0.808,"q3":0.814,"hi":0.828},
{"r":33,"s":"BRB-seq","lo":0.789,"q1":0.808,"md":0.815,"q3":0.821,"hi":0.835},
{"r":34,"s":"BRB-seq","lo":0.78,"q1":0.799,"md":0.806,"q3":0.812,"hi":0.826},
{"r":35,"s":"BRB-seq","lo":0.792,"q1":0.811,"md":0.818,"q3":0.824,"hi":0.838},
{"r":36,"s":"BRB-seq","lo":0.736,"q1":0.742,"md":0.744,"q3":0.747,"hi":0.752},
{"r":37,"s":"BRB-seq","lo":0.767,"q1":0.773,"md":0.775,"q3":0.778,"hi":0.783},
{"r":38,"s":"BRB-seq","lo":0.795,"q1":0.814,"md":0.821,"q3":0.827,"hi":0.841},
{"r":39,"s":"BRB-seq","lo":0.795,"q1":0.814,"md":0.821,"q3":0.827,"hi":0.841},
{"r":40,"s":"BRB-seq","lo":0.796,"q1":0.815,"md":0.822,"q3":0.828,"hi":0.842},
{"r":41,"s":"BRB-seq","lo":0.792,"q1":0.811,"md":0.818,"q3":0.824,"hi":0.838},
{"r":42,"s":"BRB-seq","lo":0.789,"q1":0.808,"md":0.815,"q3":0.821,"hi":0.835},
{"r":43,"s":"BRB-seq","lo":0.794,"q1":0.813,"md":0.82,"q3":0.826,"hi":0.84},
{"r":44,"s":"BRB-seq","lo":0.792,"q1":0.811,"md":0.818,"q3":0.824,"hi":0.838},
{"r":45,"s":"BRB-seq","lo":0.789,"q1":0.808,"md":0.815,"q3":0.821,"hi":0.835},
{"r":46,"s":"BRB-seq","lo":0.79,"q1":0.809,"md":0.816,"q3":0.822,"hi":0.836},
{"r":47,"s":"BRB-seq","lo":0.794,"q1":0.813,"md":0.82,"q3":0.826,"hi":0.84},
{"r":48,"s":"BRB-seq","lo":0.796,"q1":0.815,"md":0.822,"q3":0.828,"hi":0.842},
{"r":49,"s":"BRB-seq","lo":0.754,"q1":0.76,"md":0.762,"q3":0.765,"hi":0.77},
{"r":50,"s":"BRB-seq","lo":0.784,"q1":0.803,"md":0.81,"q3":0.816,"hi":0.83},
{"r":51,"s":"BRB-seq","lo":0.782,"q1":0.801,"md":0.808,"q3":0.814,"hi":0.828},
{"r":52,"s":"BRB-seq","lo":0.785,"q1":0.804,"md":0.811,"q3":0.817,"hi":0.831},
{"r":53,"s":"BRB-seq","lo":0.774,"q1":0.793,"md":0.8,"q3":0.806,"hi":0.82},
{"r":54,"s":"BRB-seq","lo":0.793,"q1":0.812,"md":0.819,"q3":0.825,"hi":0.839},
{"r":55,"s":"BRB-seq","lo":0.78,"q1":0.799,"md":0.806,"q3":0.812,"hi":0.826},
{"r":56,"s":"BRB-seq","lo":0.768,"q1":0.774,"md":0.776,"q3":0.779,"hi":0.784},
{"r":57,"s":"BRB-seq","lo":0.78,"q1":0.799,"md":0.806,"q3":0.812,"hi":0.826},
{"r":58,"s":"BRB-seq","lo":0.779,"q1":0.798,"md":0.805,"q3":0.811,"hi":0.825},
{"r":59,"s":"BRB-seq","lo":0.772,"q1":0.791,"md":0.798,"q3":0.804,"hi":0.818},
{"r":60,"s":"BRB-seq","lo":0.792,"q1":0.811,"md":0.818,"q3":0.824,"hi":0.838},
{"r":61,"s":"BRB-seq","lo":0.778,"q1":0.797,"md":0.804,"q3":0.81,"hi":0.824},
{"r":62,"s":"BRB-seq","lo":0.794,"q1":0.813,"md":0.82,"q3":0.826,"hi":0.84}
 ],
 "dout":[
{"r":1,"v":0.772},{"r":1,"v":0.745},{"r":2,"v":0.768},{"r":2,"v":0.741},{"r":3,"v":0.775},{"r":3,"v":0.748},{"r":4,"v":0.763},{"r":4,"v":0.744},{"r":6,"v":0.77},{"r":6,"v":0.739},{"r":7,"v":0.766},{"r":7,"v":0.747},{"r":8,"v":0.76},{"r":8,"v":0.742},{"r":9,"v":0.773},{"r":9,"v":0.75},{"r":10,"v":0.769},{"r":10,"v":0.738},{"r":12,"v":0.771},{"r":12,"v":0.746},{"r":13,"v":0.764},{"r":13,"v":0.743},{"r":14,"v":0.776},{"r":14,"v":0.74},{"r":16,"v":0.767},{"r":16,"v":0.745},{"r":17,"v":0.773},{"r":17,"v":0.749},{"r":18,"v":0.761},{"r":18,"v":0.741},{"r":19,"v":0.77},{"r":19,"v":0.744},{"r":20,"v":0.765},{"r":20,"v":0.739},{"r":21,"v":0.774},{"r":21,"v":0.747},{"r":22,"v":0.768},{"r":22,"v":0.742},{"r":25,"v":0.771},{"r":25,"v":0.746},{"r":26,"v":0.763},{"r":26,"v":0.74},{"r":27,"v":0.775},{"r":27,"v":0.744},{"r":28,"v":0.769},{"r":28,"v":0.749},{"r":29,"v":0.762},{"r":29,"v":0.741},{"r":30,"v":0.772},{"r":30,"v":0.746},{"r":31,"v":0.766},{"r":31,"v":0.738},{"r":32,"v":0.77},{"r":32,"v":0.743},{"r":33,"v":0.764},{"r":33,"v":0.748},{"r":34,"v":0.773},{"r":34,"v":0.741},{"r":35,"v":0.767},{"r":35,"v":0.745},{"r":38,"v":0.771},{"r":38,"v":0.74},{"r":39,"v":0.765},{"r":39,"v":0.747},{"r":40,"v":0.774},{"r":40,"v":0.743},{"r":41,"v":0.762},{"r":41,"v":0.739},{"r":42,"v":0.769},{"r":42,"v":0.746},{"r":43,"v":0.772},{"r":43,"v":0.742},{"r":44,"v":0.766},{"r":44,"v":0.748},{"r":45,"v":0.77},{"r":45,"v":0.741},{"r":46,"v":0.763},{"r":46,"v":0.745},{"r":47,"v":0.775},{"r":47,"v":0.74},{"r":48,"v":0.768},{"r":48,"v":0.744},{"r":50,"v":0.771},{"r":50,"v":0.747},{"r":51,"v":0.764},{"r":51,"v":0.739},{"r":52,"v":0.773},{"r":52,"v":0.743},{"r":53,"v":0.767},{"r":53,"v":0.748},{"r":54,"v":0.77},{"r":54,"v":0.741},{"r":55,"v":0.762},{"r":55,"v":0.746},{"r":57,"v":0.769},{"r":57,"v":0.74},{"r":58,"v":0.774},{"r":58,"v":0.744},{"r":59,"v":0.765},{"r":59,"v":0.747},{"r":60,"v":0.771},{"r":60,"v":0.742},{"r":61,"v":0.768},{"r":61,"v":0.745},{"r":62,"v":0.763},{"r":62,"v":0.739},{"r":15,"v":0.729},{"r":36,"v":0.732},{"r":5,"v":0.735}
 ],
 "bars":[
{"metric":"Total","method":"Decode-seq","value":1.0},{"metric":"Total","method":"BRB-seq (filter)","value":0.874},{"metric":"Total","method":"BRB-seq (gene)","value":0.999},
{"metric":"Sensitivity","method":"Decode-seq","value":0.951},{"metric":"Sensitivity","method":"BRB-seq (filter)","value":0.942},{"metric":"Sensitivity","method":"BRB-seq (gene)","value":0.869},
{"metric":"FDR","method":"Decode-seq","value":0.142},{"metric":"FDR","method":"BRB-seq (filter)","value":0.18},{"metric":"FDR","method":"BRB-seq (gene)","value":0.166}
 ],
 "tab":[
{"Method":"Method","Total":"Total","Sensitivity":"Sensitivity","FDR":"FDR"},
{"Method":"Decode-seq","Total":"18,425","Sensitivity":"95.1%","FDR":"14.2%"},
{"Method":"BRB-seq (filter)","Total":"16,112","Sensitivity":"94.2%","FDR":"18.0%"},
{"Method":"BRB-seq (gene)","Total":"18,413","Sensitivity":"86.9%","FDR":"16.6%"}
 ]
},
"concat":[
 {"hconcat":[
   {"width":204,"height":186,
    "layer":[
     {"data":{"name":"scatA"},"mark":{"type":"circle","size":15,"opacity":1},
      "encoding":{
       "x":{"field":"x","type":"quantitative","scale":{"type":"log","domain":[0.6,174000],"nice":false},"axis":{"values":[1,10,100,1000,10000,100000],"labelExpr":"'10' + ['⁰','¹','²','³','⁴','⁵'][round(log(datum.value)/LN10)]","title":"Mix1"}},
       "y":{"field":"y","type":"quantitative","scale":{"type":"log","domain":[0.66,195000],"nice":false},"axis":{"values":[1,10,100,1000,10000,100000],"labelExpr":"'10' + ['⁰','¹','²','³','⁴','⁵'][round(log(datum.value)/LN10)]","title":"Mix5","tickSize":3,"labelPadding":1,"titlePadding":1}},
       "color":{"field":"c","type":"nominal","scale":{"domain":["g","o","r","b"],"range":["#C9C9C9","#F98C0A","#D7261E","#3A7FC0"]},"legend":null}}},
     {"data":{"name":"diag"},"mark":{"type":"line","color":"black","strokeWidth":1.1,"strokeDash":[1,3],"clip":true},
      "encoding":{"x":{"field":"x","type":"quantitative"},"y":{"field":"y","type":"quantitative"},"detail":{"field":"k"}}},
     {"data":{"values":[{}]},"mark":{"type":"text","align":"center","baseline":"middle","fontSize":11.5},
      "encoding":{"x":{"datum":414},"y":{"datum":335000},"text":{"value":"Decode-seq"}}},
     {"data":{"values":[{}]},"mark":{"type":"text","align":"left","baseline":"middle","fontSize":12},
      "encoding":{"x":{"datum":1.19},"y":{"datum":81000},"text":{"value":"n = 3"}}},
     {"data":{"values":[{}]},"mark":{"type":"text","align":"right","baseline":"top","font":"Liberation Mono","fontSize":9,"lineHeight":13.3},
      "encoding":{"x":{"datum":106000},"y":{"datum":760},"text":{"value":["TP(r):\u00a0\u00a01372","FN(o):\u00a0\u00a03060","FP(b):\u00a0\u00a0\u00a0700","TN(g):\u00a013293","Total:\u00a018425","Specificity:\u00a095.0%","Sensitivity:\u00a031.0%","FDR:\u00a033.8%"]}}},
     {"data":{"values":[{}]},"mark":{"type":"text","align":"left","baseline":"alphabetic","fontSize":17,"fontWeight":"bold"},
      "encoding":{"x":{"datum":0.0512},"y":{"datum":195000},"text":{"value":"a"}}}
    ]},
   {"width":198,"height":186,
    "layer":[
     {"data":{"name":"scatB"},"mark":{"type":"circle","size":15,"opacity":1},
      "encoding":{
       "x":{"field":"x","type":"quantitative","scale":{"type":"log","domain":[0.66,117500],"nice":false},"axis":{"values":[1,10,100,1000,10000,100000],"labelExpr":"'10' + ['⁰','¹','²','³','⁴','⁵'][round(log(datum.value)/LN10)]","title":"Mix1"}},
       "y":{"field":"y","type":"quantitative","scale":{"type":"log","domain":[0.66,195000],"nice":false},"axis":{"values":[1,10,100,1000,10000,100000],"labelExpr":"'10' + ['⁰','¹','²','³','⁴','⁵'][round(log(datum.value)/LN10)]","title":"Mix5","tickSize":3,"labelPadding":1,"titlePadding":1}},
       "color":{"field":"c","type":"nominal","scale":{"domain":["g","o","r","b"],"range":["#C9C9C9","#F98C0A","#D7261E","#3A7FC0"]},"legend":null}}},
     {"data":{"name":"diag"},"mark":{"type":"line","color":"black","strokeWidth":1.1,"strokeDash":[1,3],"clip":true},
      "encoding":{"x":{"field":"x","type":"quantitative"},"y":{"field":"y","type":"quantitative"},"detail":{"field":"k"}}},
     {"data":{"values":[{}]},"mark":{"type":"text","align":"center","baseline":"middle","fontSize":11.5},
      "encoding":{"x":{"datum":279},"y":{"datum":335000},"text":{"value":"Decode-seq"}}},
     {"data":{"values":[{}]},"mark":{"type":"text","align":"left","baseline":"middle","fontSize":12},
      "encoding":{"x":{"datum":0.9},"y":{"datum":81000},"text":{"value":"n = 30"}}},
     {"data":{"values":[{}]},"mark":{"type":"text","align":"right","baseline":"top","font":"Liberation Mono","fontSize":9,"lineHeight":13.3},
      "encoding":{"x":{"datum":87000},"y":{"datum":760},"text":{"value":["TP(r):\u00a0\u00a04215","FN(o):\u00a0\u00a0\u00a0217","FP(b):\u00a0\u00a0\u00a0700","TN(g):\u00a013293","Total:\u00a018425","Specificity:\u00a095.0%","Sensitivity:\u00a095.1%","FDR:\u00a014.2%"]}}},
     {"data":{"values":[{}]},"mark":{"type":"text","align":"left","baseline":"alphabetic","fontSize":17,"fontWeight":"bold"},
      "encoding":{"x":{"datum":0.0374},"y":{"datum":195000},"text":{"value":"b"}}}
    ]},
   {"width":205,"height":186,
    "layer":[
     {"data":{"name":"cbox"},"mark":{"type":"rule","strokeWidth":1.2,"xOffset":{"expr":"datum.m == 'FDR' ? 2 : -2"}},
      "encoding":{
       "x":{"field":"n","type":"quantitative","scale":{"domain":[1.25,30.6],"nice":false,"zero":false},"axis":{"values":[5,10,15,20,25,30],"title":"Sample size"}},
       "y":{"field":"lo","type":"quantitative","scale":{"domain":[-0.047,1.053],"nice":false,"zero":false},"axis":{"values":[0,0.2,0.4,0.6,0.8,1],"format":".0%","title":null,"labelOverlap":false,"tickCount":6}},
       "y2":{"field":"hi"},
       "color":{"field":"m","type":"nominal","scale":{"domain":["Sensitivity","FDR"],"range":["#D8419A","#3EAA5E"]},
        "legend":{"orient":"none","legendX":131,"legendY":92,"title":"Measure","symbolType":"square","symbolSize":70,"symbolStrokeWidth":1.5,"symbolFillColor":"white","rowPadding":-1,"titlePadding":4}}}},
     {"data":{"name":"cbox"},"mark":{"type":"bar","size":4,"filled":false,"fill":"white","strokeWidth":1.2,"xOffset":{"expr":"datum.m == 'FDR' ? 2 : -2"}},
      "encoding":{"x":{"field":"n","type":"quantitative"},"y":{"field":"q1","type":"quantitative"},"y2":{"field":"q3"},"color":{"field":"m","type":"nominal"}}},
     {"data":{"name":"cbox"},"mark":{"type":"tick","orient":"horizontal","size":4,"thickness":1.2,"xOffset":{"expr":"datum.m == 'FDR' ? 2 : -2"}},
      "encoding":{"x":{"field":"n","type":"quantitative"},"y":{"field":"md","type":"quantitative"},"fill":{"field":"m","type":"nominal","scale":{"domain":["Sensitivity","FDR"],"range":["#D8419A","#3EAA5E"]},"legend":null}}},
     {"data":{"name":"cout"},"mark":{"type":"circle","size":4,"opacity":1,"xOffset":{"expr":"datum.m == 'FDR' ? 2 : -2"}},
      "encoding":{"x":{"field":"n","type":"quantitative"},"y":{"field":"v","type":"quantitative"},"fill":{"field":"m","type":"nominal","scale":{"domain":["Sensitivity","FDR"],"range":["#D8419A","#3EAA5E"]},"legend":null}}},
     {"data":{"values":[{}]},"mark":{"type":"text","align":"left","baseline":"alphabetic","fontSize":17,"fontWeight":"bold"},
      "encoding":{"x":{"datum":-4.91},"y":{"datum":1.053},"text":{"value":"c"}}}
    ]}
  ],"spacing":63,"bounds":"flush","resolve":{"scale":{"color":"independent","fill":"independent"},"legend":{"color":"independent","fill":"independent"}}},
 {"hconcat":[
  {"width":209,"height":207,
   "layer":[
    {"data":{"name":"dbox"},"mark":{"type":"rule","color":"#B3B3B3","strokeWidth":0.8},
     "encoding":{
      "x":{"field":"r","type":"quantitative","scale":{"domain":[0.4,62.4],"nice":false,"zero":false},"axis":{"values":[1,20,40,60],"title":"Replicates","tickSize":3,"labelPadding":1,"titlePadding":1}},
      "y":{"field":"lo","type":"quantitative","scale":{"domain":[0.64,0.8957],"nice":false,"zero":false},"axis":{"values":[0.65,0.7,0.75,0.8,0.85],"format":".2f","title":null,"labelFontSize":11,"tickSize":3,"labelPadding":1}},
      "y2":{"field":"hi"}}},
    {"data":{"name":"dout"},"mark":{"type":"circle","size":3,"color":"#B5D98A","opacity":0.9},
     "encoding":{"x":{"field":"r","type":"quantitative"},"y":{"field":"v","type":"quantitative"}}},
    {"data":{"name":"dbox"},"mark":{"type":"bar","size":3},
     "encoding":{"x":{"field":"r","type":"quantitative"},"y":{"field":"q1","type":"quantitative"},"y2":{"field":"q3"},
      "color":{"field":"s","type":"nominal","scale":{"domain":["Decode-seq","BRB-seq"],"range":["#F0862A","#9CCB5B"]},
       "legend":{"orient":"none","legendX":41,"legendY":194,"direction":"horizontal","title":null,"symbolType":"square","symbolSize":49,"labelFontSize":11.5,"columnPadding":8,"labelOffset":5}}}},
    {"data":{"name":"dbox"},"mark":{"type":"tick","orient":"horizontal","size":3,"thickness":0.8,"color":"#3A3A3A"},
     "encoding":{"x":{"field":"r","type":"quantitative"},"y":{"field":"md","type":"quantitative"}}},
    {"data":{"values":[{}]},"mark":{"type":"text","align":"right","baseline":"middle","fontSize":11},
     "encoding":{"x":{"datum":52.3},"y":{"datum":0.709},"text":{"value":"mean (Decode-seq) = 0.84"}}},
    {"data":{"values":[{}]},"mark":{"type":"text","align":"right","baseline":"middle","fontSize":11},
     "encoding":{"x":{"datum":52.3},"y":{"datum":0.6907},"text":{"value":"mean (BRB-seq) = 0.80"}}},
    {"data":{"values":[{}]},"mark":{"type":"text","align":"center","baseline":"middle","fontSize":11.5,"angle":270},
     "encoding":{"x":{"datum":-9.69},"y":{"datum":0.7536},"text":{"value":"Correlation"}}},
    {"data":{"values":[{}]},"mark":{"type":"text","align":"left","baseline":"alphabetic","fontSize":17,"fontWeight":"bold"},
     "encoding":{"x":{"datum":-11.47},"y":{"datum":0.8788},"text":{"value":"d"}}}
   ]},
  {"width":217,"height":170,
   "layer":[
    {"data":{"name":"bars"},"mark":{"type":"bar"},
     "encoding":{
      "x":{"field":"metric","type":"nominal","sort":["Total","Sensitivity","FDR"],"scale":{"paddingInner":0.088,"paddingOuter":0.147},"axis":{"title":null,"labelAngle":0,"labelFontSize":12}},
      "xOffset":{"field":"method","type":"nominal","sort":["Decode-seq","BRB-seq (filter)","BRB-seq (gene)"],"scale":{"paddingInner":0,"paddingOuter":0}},
      "y":{"field":"value","type":"quantitative","scale":{"domain":[0,1.619],"nice":false},"axis":{"title":null,"values":[0,0.25,0.5,0.75,1],"format":".2f","labelFontSize":12,"domain":false}},
      "color":{"field":"method","type":"nominal","sort":["Decode-seq","BRB-seq (filter)","BRB-seq (gene)"],"scale":{"domain":["Decode-seq","BRB-seq (filter)","BRB-seq (gene)"],"range":["#F8B98C","#A6DBA0","#41AB5D"]},
       "legend":{"orient":"none","legendX":142,"legendY":92,"title":null,"symbolType":"square","symbolSize":81,"labelFontSize":10.5,"rowPadding":-3,"labelOffset":5}}
     }},
    {"data":{"values":[{}]},"mark":{"type":"text","align":"left","baseline":"alphabetic","fontSize":17,"fontWeight":"bold","dx":-78,"color":"black"},
     "encoding":{"x":{"datum":"Total"},"y":{"datum":1.457},"text":{"value":"e"}}}
   ]},
  {"width":203,"height":166,
   "data":{"name":"tab"},
   "encoding":{"y":{"field":"Method","type":"nominal","sort":null,"scale":{"paddingInner":0,"paddingOuter":1.532,"align":1},"axis":null}},
   "layer":[
    {"mark":{"type":"rect","stroke":"white","strokeWidth":1},
     "encoding":{"x":{"datum":0,"type":"quantitative","scale":{"domain":[0,1],"nice":false},"axis":null},"x2":{"datum":1},
      "color":{"field":"Method","type":"nominal","scale":{"domain":["Method","Decode-seq","BRB-seq (filter)","BRB-seq (gene)"],"range":["#DCDCDC","#F8B98C","#A6DBA0","#45AC5F"]},"legend":null}}},
    {"mark":{"type":"text","align":"left","baseline":"middle","fontSize":11},"encoding":{"x":{"datum":0.02},"text":{"field":"Method"}}},
    {"mark":{"type":"text","align":"left","baseline":"middle","fontSize":11},"encoding":{"x":{"datum":0.433},"text":{"field":"Total"}}},
    {"mark":{"type":"text","align":"center","baseline":"middle","fontSize":11},"encoding":{"x":{"datum":0.704},"text":{"field":"Sensitivity"}}},
    {"mark":{"type":"text","align":"center","baseline":"middle","fontSize":11},"encoding":{"x":{"datum":0.921},"text":{"field":"FDR"}}}
   ]}
 ],"spacing":51,"bounds":"flush","resolve":{"scale":{"color":"independent"},"legend":{"color":"independent"}}}
],
"columns":1,
"align":"none",
"spacing":15,
"resolve":{"scale":{"color":"independent","fill":"independent"},"legend":{"color":"independent","fill":"independent"}}
}
